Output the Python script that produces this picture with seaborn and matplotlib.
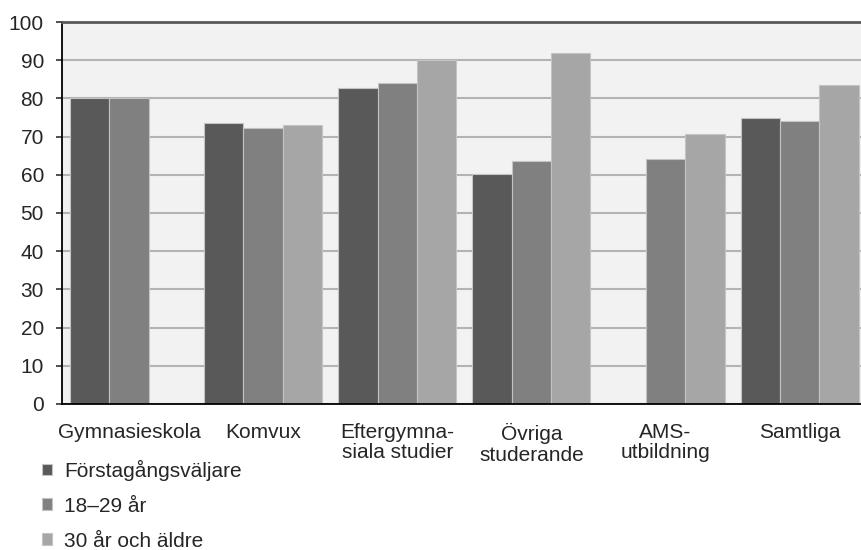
import numpy as np
import pandas as pd
import seaborn as sns
import matplotlib.pyplot as plt

# Data
categories = ["Gymnasieskola", "Komvux", "Eftergymna-\nsiala studier",
              "Övriga\nstuderande", "AMS-\nutbildning", "Samtliga"]
groups = ["Förstagångsväljare", "18–29 år", "30 år och äldre"]
first_time = [80.0, 73.5, 82.7, 60.1, np.nan, 74.8]
age_18_29 = [80.0, 72.3, 84.0, 63.6, 64.2, 74.0]
age_30_up = [np.nan, 73.1, 90.0, 91.8, 70.8, 83.4]
colors = ["#595959", "#808080", "#a6a6a6"]

df = pd.DataFrame({"kategori": categories,
                   groups[0]: first_time,
                   groups[1]: age_18_29,
                   groups[2]: age_30_up})
df = df.melt(id_vars="kategori", var_name="grupp", value_name="andel").dropna()

sns.set_style("white")
plt.rcParams["font.family"] = ["Liberation Sans", "DejaVu Sans"]
plt.rcParams["font.size"] = 15

fig = plt.figure(figsize=(8.61, 5.5), dpi=100)
ax = fig.add_axes([0.072, 0.2655, 0.9346, 0.6945])
ax.set_facecolor("#f2f2f2")

sns.barplot(data=df, x="kategori", y="andel", hue="grupp",
            order=categories, hue_order=groups, palette=colors,
            width=0.88, edgecolor="#c4c4c4", linewidth=0.8,
            saturation=1, ax=ax)

ax.set_xlim(-0.5, 5.5)
ax.set_ylim(0, 100)
ax.set_yticks(range(0, 101, 10))
ax.yaxis.grid(True, color="#b3b3b3", lw=1.5)
ax.set_axisbelow(True)
ax.set_xlabel("")
ax.set_ylabel("")

ax.tick_params(axis="x", length=0, pad=14, labelsize=15)
ax.tick_params(axis="y", length=4, width=1.2, pad=9, labelsize=15,
               left=True, color="#333333")
for lab in ax.get_xticklabels():
    lab.set_linespacing(1.07)

ax.spines["right"].set_visible(False)
ax.spines["top"].set_color("#595959")
ax.spines["top"].set_linewidth(2)
for s in ["left", "bottom"]:
    ax.spines[s].set_color("black")
    ax.spines[s].set_linewidth(1.3)

handles, labels = ax.get_legend_handles_labels()
ax.get_legend().remove()
fig.legend(handles, labels, loc="upper left", bbox_to_anchor=(0.0488, 0.164),
           frameon=False, borderpad=0, borderaxespad=0, fontsize=15,
           handlelength=0.5, handleheight=0.5, handletextpad=0.55,
           labelspacing=0.76)

fig.savefig("out.png", dpi=100)
